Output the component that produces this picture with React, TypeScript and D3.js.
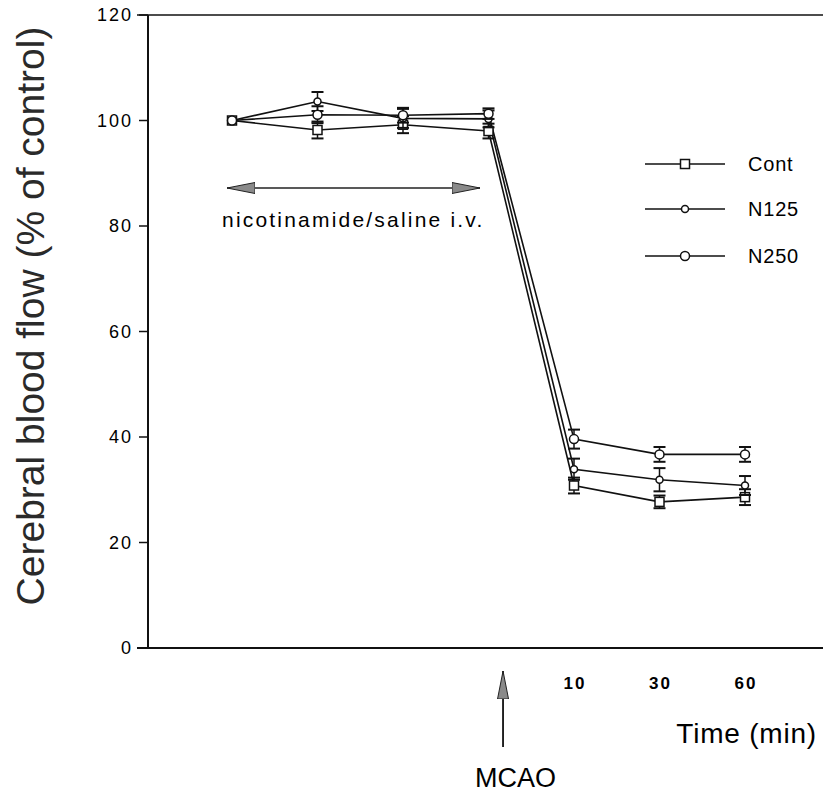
import React, { useRef, useEffect } from "react";
import * as d3 from "d3";

const width = 823;
const height = 792;

// x positions are sample indexes (0-3 before MCAO, 4-6 after)
const timeIndex = [0, 1, 2, 3, 4, 5, 6];
const timeLabels = ["", "", "", "", "10", "30", "60"];
const yTicks = [0, 20, 40, 60, 80, 100, 120];

const contValues = [100, 98.2, 99.2, 98.0, 30.8, 27.7, 28.6];
const contErrors = [0, 1.6, 1.6, 1.4, 1.5, 1.2, 1.5];
const n125Values = [100, 103.6, 100.4, 100.3, 33.9, 31.9, 30.8];
const n125Errors = [0, 1.8, 1.8, 1.6, 2.0, 2.2, 1.8];
const n250Values = [100, 101.1, 101.0, 101.3, 39.6, 36.7, 36.7];
const n250Errors = [0, 1.6, 1.4, 1.0, 1.8, 1.4, 1.4];

const seriesNames = ["Cont", "N125", "N250"];
const mcaoIndex = 3.17;

function App() {
  const svgRef = useRef(null);

  useEffect(() => {
    const svg = d3.select(svgRef.current);
    svg.selectAll("*").remove();

    const font = "'Liberation Sans', Arial, Helvetica, sans-serif";

    const xScale = d3.scaleLinear().domain([0, 6]).range([232, 745]);
    const yScale = d3.scaleLinear().domain([0, 120]).range([648, 15]);

    const defs = svg.append("defs");
    defs
      .append("marker")
      .attr("id", "head")
      .attr("viewBox", "0 0 28 12")
      .attr("refX", 28)
      .attr("refY", 6)
      .attr("markerWidth", 28)
      .attr("markerHeight", 12)
      .attr("markerUnits", "userSpaceOnUse")
      .attr("orient", "auto-start-reverse")
      .append("path")
      .attr("d", "M0,0.5 L28,6 L0,11.5 Z")
      .attr("fill", "#8a8a8a")
      .attr("stroke", "#222")
      .attr("stroke-width", 1);

    // frame: y axis, top and bottom lines
    const frame = svg.append("g").attr("stroke", "#111").attr("fill", "none");
    frame.append("line").attr("x1", 148).attr("x2", 148).attr("y1", yScale(120)).attr("y2", yScale(0)).attr("stroke-width", 2);
    frame.append("line").attr("x1", 137).attr("x2", width).attr("y1", yScale(120)).attr("y2", yScale(120)).attr("stroke-width", 1.5);
    frame.append("line").attr("x1", 137).attr("x2", width).attr("y1", yScale(0)).attr("y2", yScale(0)).attr("stroke-width", 2);

    const yAxis = svg.append("g");
    yTicks.forEach((t) => {
      yAxis
        .append("line")
        .attr("x1", 139)
        .attr("x2", 148)
        .attr("y1", yScale(t))
        .attr("y2", yScale(t))
        .attr("stroke", "#111")
        .attr("stroke-width", 1.5);
      yAxis
        .append("text")
        .attr("x", 133)
        .attr("y", yScale(t))
        .attr("dy", "0.36em")
        .attr("text-anchor", "end")
        .attr("font-family", font)
        .attr("font-size", 18)
        .attr("letter-spacing", 2)
        .text(t);
    });

    timeIndex.forEach((i) => {
      if (!timeLabels[i]) return;
      svg
        .append("text")
        .attr("x", xScale(i) + 1)
        .attr("y", 683)
        .attr("dy", "0.36em")
        .attr("text-anchor", "middle")
        .attr("font-family", font)
        .attr("font-size", 17)
        .attr("font-weight", "bold")
        .attr("letter-spacing", 2)
        .text(timeLabels[i]);
    });

    svg
      .append("text")
      .attr("transform", "translate(44,316) rotate(-90)")
      .attr("text-anchor", "middle")
      .attr("font-family", font)
      .attr("font-size", 39)
      .attr("fill", "#2a2a2a")
      .text("Cerebral blood flow (% of control)");

    svg
      .append("text")
      .attr("x", 817)
      .attr("y", 743)
      .attr("text-anchor", "end")
      .attr("font-family", font)
      .attr("font-size", 28)
      .attr("letter-spacing", 0.8)
      .text("Time (min)");

    // MCAO arrow
    svg
      .append("line")
      .attr("x1", xScale(mcaoIndex))
      .attr("x2", xScale(mcaoIndex))
      .attr("y1", 747)
      .attr("y2", 671)
      .attr("stroke", "#111")
      .attr("stroke-width", 1.8)
      .attr("marker-end", "url(#head)");
    svg
      .append("text")
      .attr("x", 475)
      .attr("y", 787)
      .attr("font-family", font)
      .attr("font-size", 27)
      .text("MCAO");

    // infusion arrow
    svg
      .append("line")
      .attr("x1", 227)
      .attr("x2", 480)
      .attr("y1", 188)
      .attr("y2", 188)
      .attr("stroke", "#222")
      .attr("stroke-width", 1.5)
      .attr("marker-start", "url(#head)")
      .attr("marker-end", "url(#head)");
    svg
      .append("text")
      .attr("x", 222)
      .attr("y", 227)
      .attr("font-family", font)
      .attr("font-size", 21)
      .attr("letter-spacing", 2.2)
      .text("nicotinamide/saline i.v.");

    const series = [
      { name: seriesNames[0], values: contValues, errors: contErrors, shape: "square" },
      { name: seriesNames[1], values: n125Values, errors: n125Errors, shape: "small" },
      { name: seriesNames[2], values: n250Values, errors: n250Errors, shape: "circle" },
    ];

    const line = d3
      .line()
      .x((d) => xScale(d[0]))
      .y((d) => yScale(d[1]));

    const drawMarker = (g, shape, cx, cy) => {
      if (shape === "square") {
        g.append("rect")
          .attr("x", cx - 4.5)
          .attr("y", cy - 4.5)
          .attr("width", 9)
          .attr("height", 9)
          .attr("fill", "white")
          .attr("stroke", "#111")
          .attr("stroke-width", 1.5);
      } else {
        g.append("circle")
          .attr("cx", cx)
          .attr("cy", cy)
          .attr("r", shape === "small" ? 3.5 : 4.5)
          .attr("fill", "white")
          .attr("stroke", "#111")
          .attr("stroke-width", 1.5);
      }
    };

    series.forEach((s) => {
      const pts = timeIndex.map((i) => [i, s.values[i]]);
      svg
        .append("path")
        .datum(pts)
        .attr("fill", "none")
        .attr("stroke", "#111")
        .attr("stroke-width", 1.6)
        .attr("d", line);
    });

    series.forEach((s) => {
      const g = svg.append("g");
      timeIndex.forEach((i) => {
        const cx = xScale(i);
        const e = s.errors[i];
        if (e > 0) {
          const y1 = yScale(s.values[i] + e);
          const y2 = yScale(s.values[i] - e);
          g.append("line").attr("x1", cx).attr("x2", cx).attr("y1", y1).attr("y2", y2).attr("stroke", "#111").attr("stroke-width", 1.5);
          [y1, y2].forEach((yy) => {
            g.append("line").attr("x1", cx - 6).attr("x2", cx + 6).attr("y1", yy).attr("y2", yy).attr("stroke", "#111").attr("stroke-width", 2);
          });
        }
        drawMarker(g, s.shape, cx, yScale(s.values[i]));
      });
    });

    // legend
    const legendY = [164, 209, 256];
    series.forEach((s, k) => {
      const g = svg.append("g");
      g.append("line")
        .attr("x1", 645)
        .attr("x2", 725)
        .attr("y1", legendY[k])
        .attr("y2", legendY[k])
        .attr("stroke", "#111")
        .attr("stroke-width", 1.5);
      drawMarker(g, s.shape, 685, legendY[k]);
      g.append("text")
        .attr("x", 748)
        .attr("y", legendY[k])
        .attr("dy", "0.36em")
        .attr("font-family", font)
        .attr("font-size", 20)
        .attr("letter-spacing", 0.8)
        .text(s.name);
    });
  }, []);

  return (
    <svg
      ref={svgRef}
      width={width}
      height={height}
      style={{ position: "absolute", left: 0, top: 0, background: "white" }}
    ></svg>
  );
}

export default App;
